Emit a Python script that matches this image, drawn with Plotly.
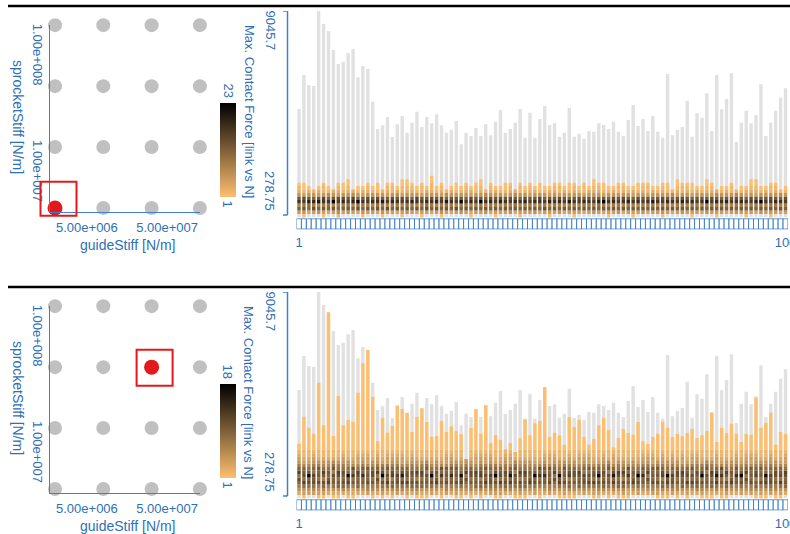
import math
import plotly.graph_objects as go

# ---------------- data ----------------
links = list(range(1, 101))

# overall max contact force per link (grey bars), N
max_force = [4834, 6295, 5865, 5822, 9045.7, 8486, 8172, 7369, 6767, 6866,
             7227, 7412, 6196, 6681, 6552, 5147, 3974, 4133, 4490, 3630,
             4176, 4533, 3815, 4245, 4718, 4060, 4490, 4219, 4606, 4133,
             3815, 3944, 4318, 3317, 3815, 3673, 4017, 3673, 4176, 3703,
             4288, 4791, 3815, 3974, 4245, 4834, 3600, 4675, 3600, 4404,
             4962, 4146, 4219, 3643, 3815, 4889, 3643, 3772, 3557, 3888,
             3858, 4219, 4146, 3974, 4288, 3858, 3673, 4361, 5005, 4103,
             4404, 3888, 4533, 3858, 3600, 6338, 3703, 3931, 4060, 5190,
             3643, 4649, 4460, 5508, 3888, 6295, 4821, 5263, 6368, 3416,
             4245, 4761, 4219, 4576, 5895, 3673, 4245, 4761, 5319, 5723]

force_min = 278.75
force_max = 9045.7
bin_start = 170.0
bin_width = 150.0

guide_stiff = [2.0e6, 8.0e6, 3.2e7, 1.28e8]
sprocket_stiff = [5.0e6, 1.67e7, 5.57e7, 1.86e8]
guide_ticks = [5e6, 5e7]
guide_ticktext = ["5.00e+006", "5.00e+007"]
sprocket_ticks = [1e7, 1e8]
sprocket_ticktext = ["1.00e+007", "1.00e+008"]

selected_top = (0, 0)       # (guide index, sprocket index)
selected_bottom = (2, 2)

# histogram counts per link, bins from bin_start upward (base-36 digits)
top_counts = [
    "05c8hd6321", "16d9ge5211", "04bajd631", "05e9ic62", "06c8kd531",
    "15d9hf6221", "04cahc721", "05d8nd63", "27b9ge5321", "05c9ie6211",
    "06dagd63211", "05c8jf73", "04eanc621", "16c9hd531", "05d9ge6321",
    "05c8id621", "04dahe6211", "16c9kd62", "05e8gc5321", "05c9ie6221",
    "04d9hd731", "15c8ge52211", "06dahd63211", "05c9jc6321", "04d8hf621",
    "15c9gd5221", "05eaid631", "04c9he632211", "05d8jd621", "16c9ge5321",
    "05dakc72", "04c9hd631", "05e8gd6211", "06c9nd621", "05d9hc6321",
    "14c8ie531", "05d9gd6221", "05c9nd63211", "06d8hc72", "04c9ie6321",
    "15d9gd631", "05c8je621", "05d9hd5211", "06c9ge6321", "04daid73",
    "15c8hc6221", "05d9je621", "05c9gd5321", "06d8id631", "04c9hf6211",
    "05e9gc621", "15c8jd531", "05d9hd6321", "06c9ie5221", "04d8gd631",
    "05c9kc6211", "15d9hd6321", "05c8ge621", "04d9id5221", "05c9hd631",
    "06d9gc63211", "05cajd6321", "04d9nd5211", "15c8hc621", "05d9ie631",
    "06c9gd6221", "04d8he6321", "05c9jd621", "15d9hc531", "05c8ie6211",
    "06d9gd6321", "04c9hd5221", "05d9kc631", "05c8hd621", "16d9ge6321",
    "05c9id6211", "04d8hc72", "05c9gd53211", "06d9je6221", "05c8hd6321",
    "15d9ic5211", "05c9gd631", "04d8hd621", "06c9nd63211", "05d9ge5321",
    "15c8id73", "05d9hc621", "04c9jd631", "05d8gd6221", "06c9he72",
    "05d9id621", "15c8hc531", "05d9ge63211", "04c9jd53211", "06d9nd621",
    "05c8hd631", "15d9ge6221", "05c9id6321", "04d8hc72", "05c9ge621",
]

bottom_dense_counts = [
    "03579b8c975432", "1458c8ba964322", "0458b9ia864322", "0468bac8975432", "1457b8a9a75322",
    "1469b7ac865322", "0357ca9a865322", "1358a9b7a86322", "1359a8bc875322", "0369b9ab875432",
    "1358cah9865322", "1347a8d9b64322", "0359a9bc864432", "0357a9e9a75432", "0467b9a9a64432",
    "1367a8bb965322", "03579b8c975432", "1468b8ib974322", "0358c9b8a74432", "1369a7cb975432",
    "0468bac8975432", "0368c9gb964432", "1458c8ba964322", "0369b9ab875432", "1469b7ac865322",
    "1359a8bc875322", "1358a9b7a86322", "0458b9ia864322", "0357ca9a865322", "1347a8d9b64322",
    "0467b9a9a64432", "0357a9e9a75432", "1457b8a9a75322", "1358cah9865322", "03579b8c975432",
    "1367a8bb965322", "0359a9bc864432", "1369a7cb975432", "0358c9b8a74432", "0468bac8975432",
    "1468b8ib974322", "1458c8ba964322", "0369b9ab875432", "0368c9gb964432", "1358a9b7a86322",
    "1469b7ac865322", "1359a8bc875322", "0357ca9a865322", "0458b9ia864322", "1347a8d9b64322",
    "0357a9e9a75432", "0467b9a9a64432", "03579b8c975432", "1358cah9865322", "1457b8a9a75322",
    "1369a7cb975432", "1367a8bb965322", "0359a9bc864432", "0468bac8975432", "0358c9b8a74432",
    "1458c8ba964322", "1468b8ib974322", "0369b9ab875432", "1358a9b7a86322", "0368c9gb964432",
    "1359a8bc875322", "1469b7ac865322", "1347a8d9b64322", "0357ca9a865322", "0458b9ia864322",
    "0357a9e9a75432", "03579b8c975432", "0467b9a9a64432", "1457b8a9a75322", "1369a7cb975432",
    "1358cah9865322", "0468bac8975432", "1367a8bb965322", "0359a9bc864432", "1458c8ba964322",
    "0358c9b8a74432", "0369b9ab875432", "1468b8ib974322", "1358a9b7a86322", "1359a8bc875322",
    "0368c9gb964432", "1347a8d9b64322", "1469b7ac865322", "0357ca9a865322", "0357a9e9a75432",
    "0458b9ia864322", "03579b8c975432", "0467b9a9a64432", "1369a7cb975432", "1457b8a9a75322",
    "1358cah9865322", "0468bac8975432", "1367a8bb965322", "1458c8ba964322", "0359a9bc864432",
]

# upper end of the single-count (lightest) region per link, bottom configuration
bottom_orange_top = [2526, 3686, 3214, 2956, 5147, 3317, 8172, 2857, 4576, 3317,
                     3544, 3471, 4718, 5981, 6552, 4546, 2642, 3643, 2999, 3287,
                     4159, 4017, 3858, 3029, 3673, 4047, 3459, 2827, 2857, 3502,
                     3029, 3274, 3072, 2930, 1856, 3201, 4017, 2956, 4176, 2556,
                     2900, 2685, 2285, 2556, 2169, 2758, 3575, 2887, 3403, 3502,
                     4950, 2814, 2999, 2887, 2483, 3673, 3244, 3557, 2814, 2483,
                     2728, 3317, 3643, 3115, 2371, 2771, 3158, 2986, 2913, 3459,
                     2629, 2513, 2814, 2956, 3471, 3214, 2814, 2956, 2844, 2986,
                     3158, 2771, 2887, 3072, 3858, 2599, 3214, 2986, 3386, 2956,
                     2599, 2956, 2913, 4503, 3214, 3429, 3858, 2483, 3029, 2956]

count_max_top = 23
count_max_bottom = 18

# ---------------- styling ----------------
W, H = 790, 534
BLUE = "#2f6fb5"
LINE_BLUE = "#3f80c8"
GREY_DOT = "#c0c0c0"
RED = "#e31a1c"
GREY_BAR = "#e1e1e1"
FONT = "Liberation Sans, Arial, sans-serif"
CSCALE = [[0.0, "#fdbf6f"], [1.0, "#000000"]]
PANEL_DY = 281

# scatter-subplot geometry (pixels) and log ranges
SC_X0, SC_X1 = 50, 200
SC_Y0, SC_Y1 = 25, 212
SC_XR = [6.2387, 8.1085]
SC_YR = [6.6647, 8.2710]


def fx(px):
    return px / W


def fy(py):
    return 1 - py / H


def decode(s):
    return [int(c, 36) for c in s]


def sc_px(v):
    return SC_X0 + (math.log10(v) - SC_XR[0]) / (SC_XR[1] - SC_XR[0]) * (SC_X1 - SC_X0)


def sc_py(v, dy):
    return SC_Y1 + dy - (math.log10(v) - SC_YR[0]) / (SC_YR[1] - SC_YR[0]) * (SC_Y1 - SC_Y0)


fig = go.Figure()
layout = dict(
    width=W, height=H, margin=dict(l=0, r=0, t=0, b=0, autoexpand=False),
    paper_bgcolor="white", plot_bgcolor="white",
    showlegend=False, barmode="overlay",
    font=dict(family=FONT, size=13, color=BLUE),
)
shapes = []
annotations = []


def add_text(text, px, py, angle=0, size=13):
    annotations.append(dict(text=text, x=fx(px), y=fy(py), xref="paper", yref="paper",
                            xanchor="center", yanchor="middle", showarrow=False,
                            textangle=angle, font=dict(size=size, color=BLUE)))


panels = [
    dict(sel=selected_top, cmax=count_max_top, box=(-14.5, 21.5, -26.3, 7.7)),
    dict(sel=selected_bottom, cmax=count_max_bottom, box=(-15, 21, -17.3, 18.7)),
]

for p, cfg in enumerate(panels):
    dy = p * PANEL_DY
    n_sc, n_hm, n_st = 1 + 3 * p, 2 + 3 * p, 3 + 3 * p
    sfx = lambda n: "" if n == 1 else str(n)
    xs_, ys_ = "x" + sfx(n_sc), "y" + sfx(n_sc)
    xh_, yh_ = "x" + sfx(n_hm), "y" + sfx(n_hm)
    xt_, yt_ = "x" + sfx(n_st), "y" + sfx(n_st)
    cax = "coloraxis" + ("" if p == 0 else "2")

    # ---- scatter grid ----
    gx, gy = [], []
    for s in sprocket_stiff:
        for g in guide_stiff:
            gx.append(g)
            gy.append(s)
    fig.add_trace(go.Scatter(x=gx, y=gy, mode="markers", cliponaxis=False,
                             marker=dict(size=14, color=GREY_DOT),
                             xaxis=xs_, yaxis=ys_, hoverinfo="skip"))
    gi, si = cfg["sel"]
    fig.add_trace(go.Scatter(x=[guide_stiff[gi]], y=[sprocket_stiff[si]], mode="markers",
                             cliponaxis=False, marker=dict(size=15, color=RED),
                             xaxis=xs_, yaxis=ys_, hoverinfo="skip"))
    cxp, cyp = sc_px(guide_stiff[gi]), sc_py(sprocket_stiff[si], dy)
    bx0, bx1, by0, by1 = cfg["box"]
    shapes.append(dict(type="rect", xref="paper", yref="paper",
                       x0=fx(cxp + bx0), x1=fx(cxp + bx1), y0=fy(cyp + by0), y1=fy(cyp + by1),
                       line=dict(color=RED, width=2)))

    layout["xaxis" + sfx(n_sc)] = dict(
        type="log", domain=[fx(SC_X0), fx(SC_X1)], range=SC_XR, anchor=ys_, automargin=False,
        showline=True, linecolor=LINE_BLUE, linewidth=1, showgrid=False, zeroline=False,
        ticks="", tickvals=guide_ticks, ticktext=guide_ticktext, ticklabelstandoff=3,
        tickfont=dict(size=13, color=BLUE))
    layout["yaxis" + sfx(n_sc)] = dict(
        type="log", domain=[fy(SC_Y1 + dy), fy(SC_Y0 + dy)], range=SC_YR, anchor=xs_,
        automargin=False,
        showline=True, linecolor=LINE_BLUE, linewidth=1, showgrid=False, zeroline=False,
        ticks="", tickvals=sprocket_ticks, ticktext=sprocket_ticktext, tickangle=90,
        tickfont=dict(size=13, color=BLUE))

    add_text("guideStiff [N/m]", 127, 245 + dy, size=14)
    add_text("sprocketStiff [N/m]", 18, 117 + dy, angle=90, size=14)

    # ---- grey max bars ----
    base_val = 190.0
    fig.add_trace(go.Bar(x=links, y=[m - base_val for m in max_force], base=base_val,
                         width=0.69, marker=dict(color=GREY_BAR, line=dict(width=0)),
                         xaxis=xh_, yaxis=yh_, hoverinfo="skip"))

    # ---- histogram cells ----
    cx, cb, ch, cc = [], [], [], []
    if p == 0:
        for i, s in enumerate(top_counts):
            for k, c in enumerate(decode(s)):
                if c > 0:
                    cx.append(links[i]); cb.append(bin_start + k * bin_width)
                    ch.append(bin_width); cc.append(c)
    else:
        for i, s in enumerate(bottom_dense_counts):
            top = bottom_orange_top[i]
            dense = decode(s)
            for k, c in enumerate(dense):
                lo = bin_start + k * bin_width
                if c <= 0 or lo >= top:
                    continue
                hi = min(lo + bin_width, top)
                cx.append(links[i]); cb.append(lo); ch.append(hi - lo); cc.append(c)
            lo = bin_start + len(dense) * bin_width
            if top > lo:
                cx.append(links[i]); cb.append(lo); ch.append(top - lo); cc.append(1)
    fig.add_trace(go.Bar(x=cx, y=ch, base=cb, width=0.69,
                         marker=dict(color=cc, coloraxis=cax, line=dict(width=0)),
                         xaxis=xh_, yaxis=yh_, hoverinfo="skip"))

    y_lo = force_min - 3 * (force_max - force_min) / 204.0
    layout["xaxis" + sfx(n_hm)] = dict(domain=[fx(296.54), fx(787.96)], range=[0.5, 100.5],
                                       anchor=yh_, visible=False, showgrid=False,
                                       automargin=False)
    layout["yaxis" + sfx(n_hm)] = dict(domain=[fy(218 + dy), fy(11 + dy)], range=[y_lo, force_max],
                                       anchor=xh_, visible=False, showgrid=False,
                                       automargin=False)

    # bracket axis
    shapes.append(dict(type="line", xref="paper", yref=yh_, x0=fx(287.5), x1=fx(287.5),
                       y0=force_min, y1=force_max, line=dict(color=LINE_BLUE, width=1.5)))
    for v in (force_min, force_max):
        shapes.append(dict(type="line", xref="paper", yref=yh_, x0=fx(283), x1=fx(287.5),
                           y0=v, y1=v, line=dict(color=LINE_BLUE, width=1.5)))
    add_text(f"{force_max:g}", 270, 30.5 + dy, angle=90)
    add_text(f"{force_min:g}", 270, 191 + dy, angle=90)
    add_text("Max. Contact Force [link vs N]", 249, 111 + dy, angle=90)

    # colorbar
    layout[cax] = dict(colorscale=CSCALE, cmin=1, cmax=cfg["cmax"],
                       colorbar=dict(thickness=16, thicknessmode="pixels", len=94,
                                     lenmode="pixels", x=fx(220), xanchor="left",
                                     y=fy(150 + dy), yanchor="middle", xpad=0, ypad=0,
                                     outlinewidth=0, showticklabels=False, ticks=""))
    add_text(str(cfg["cmax"]), 227.5, 91 + dy, angle=90)
    add_text("1", 227.5, 204 + dy, angle=90)

    # ---- link strip ----
    fig.add_trace(go.Bar(x=links, y=[1] * len(links), base=0, width=1.0,
                         marker=dict(color="white", line=dict(color=LINE_BLUE, width=1)),
                         xaxis=xt_, yaxis=yt_, hoverinfo="skip"))
    layout["xaxis" + sfx(n_st)] = dict(domain=[fx(296.54), fx(787.96)], range=[0.5, 100.5],
                                       anchor=yt_, showgrid=False, zeroline=False, showline=False,
                                       automargin=False,
                                       ticks="", tickvals=[links[0], links[-1]],
                                       ticktext=[str(links[0]), str(links[-1])],
                                       ticklabelstandoff=3, ticklabeloverflow="allow",
                                       tickfont=dict(size=13, color=BLUE))
    layout["yaxis" + sfx(n_st)] = dict(domain=[fy(229.5 + dy), fy(218.3 + dy)], range=[-0.04, 1.04],
                                       anchor=xt_, visible=False, showgrid=False,
                                       automargin=False)

    # panel separator line
    shapes.append(dict(type="line", xref="paper", yref="paper", x0=fx(8), x1=1,
                       y0=fy(6 + dy), y1=fy(6 + dy), line=dict(color="black", width=2.5)))

layout["shapes"] = shapes
layout["annotations"] = annotations
fig.update_layout(**layout)
fig.write_html("out.html", config={"displayModeBar": False},
               post_script="document.body.style.margin='0';document.body.style.overflow='hidden';")
